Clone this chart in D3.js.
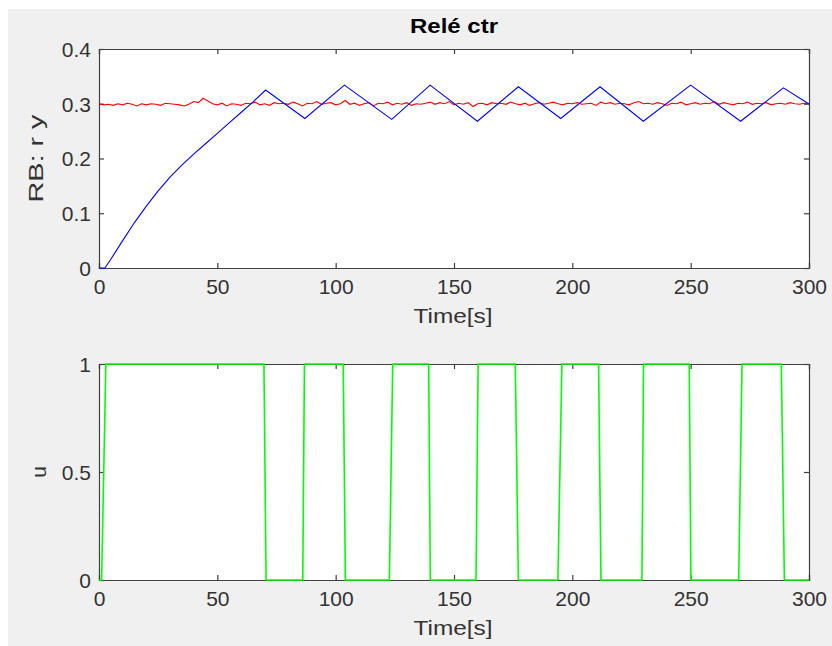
<!DOCTYPE html>
<html><head><meta charset="utf-8">
<script src="https://cdn.jsdelivr.net/npm/d3@7"></script>
<style>body{margin:0;background:#fff}svg{display:block}</style>
</head><body>
<script>
const titleText = "Relé ctr";
const xLabel = "Time[s]";
const topYLabel = "RB: r y";
const botYLabel = "u";
const timeTicks = [0,50,100,150,200,250,300];
const rbTicks = [0,0.1,0.2,0.3,0.4];
const uTicks = [0,0.5,1];

// reference r (red), sampled every 2 s
const refStep = 2;
const refValues = [
0.300,0.298,0.299,0.297,0.300,0.298,0.301,0.299,0.296,0.300,
0.298,0.300,0.299,0.297,0.301,0.300,0.299,0.298,0.296,0.299,
0.304,0.302,0.310,0.305,0.300,0.298,0.301,0.296,0.300,0.299,
0.297,0.301,0.300,0.303,0.298,0.300,0.297,0.302,0.300,0.301,
0.299,0.303,0.300,0.296,0.301,0.300,0.304,0.299,0.301,0.302,
0.298,0.300,0.306,0.299,0.301,0.297,0.300,0.302,0.296,0.301,
0.300,0.303,0.298,0.301,0.299,0.302,0.297,0.300,0.299,0.301,
0.303,0.299,0.302,0.300,0.304,0.298,0.301,0.299,0.302,0.295,
0.300,0.301,0.298,0.302,0.300,0.301,0.299,0.303,0.300,0.298,
0.301,0.297,0.300,0.302,0.299,0.301,0.303,0.300,0.298,0.301,
0.300,0.302,0.299,0.300,0.301,0.297,0.303,0.300,0.302,0.299,
0.301,0.300,0.298,0.302,0.304,0.300,0.301,0.299,0.302,0.300,
0.297,0.301,0.300,0.303,0.298,0.300,0.302,0.299,0.301,0.300,
0.304,0.299,0.302,0.300,0.298,0.301,0.300,0.303,0.299,0.301,
0.300,0.302,0.298,0.300,0.301,0.299,0.302,0.300,0.299,0.301,
0.300];

// output y (blue)
const outTime = [0,2.5,5,10,15,20,25,30,35,40,45,50,55,60,65,70.4,87,103.7,123.7,139.9,159.9,177.2,195.1,211.7,230,250,271.1,289.2,300];
const outValues = [0,0,0.016,0.050,0.083,0.113,0.141,0.166,0.188,0.208,0.227,0.246,0.265,0.284,0.303,0.325,0.273,0.334,0.2715,0.334,0.268,0.331,0.273,0.331,0.268,0.334,0.268,0.329,0.2995];

// control u (green)
const uTime = [0,1.1,2.9,69.7,70.6,86.1,86.8,103.2,104.1,122.7,124.1,139.3,140.0,159.3,160.2,175.9,177.2,193.9,195.6,211.1,212.1,229.4,230.1,249.4,250.1,270.3,271.7,288.3,289.6,300];
const uValues = [0,0,1,1,0,0,1,1,0,0,1,1,0,0,1,1,0,0,1,1,0,0,1,1,0,0,1,1,0,0];

const W = 832, H = 646;
const svg = d3.select("body").append("svg").attr("width", W).attr("height", H);
svg.append("rect").attr("x",8).attr("y",9).attr("width",W-8).attr("height",H-9).attr("fill","#f0f0f0");

const FONT = "'Liberation Sans', Arial, sans-serif";
const axisColor = "#404040";
const textColor = "#333333";

function panel(top, bottom, yDomain, yTicks, yFmt, ylabel, ylabelX, ylabelLen, series) {
  const x = d3.scaleLinear().domain([0,300]).range([99,809]);
  const y = d3.scaleLinear().domain(yDomain).range([bottom, top]);
  const g = svg.append("g");
  g.append("rect").attr("x",99).attr("y",top).attr("width",710).attr("height",bottom-top).attr("fill","#fff");

  const tl = 5;
  const axB = d3.axisBottom(x).tickValues(timeTicks).tickSize(-tl).tickFormat(d3.format("d")).tickPadding(8);
  const axT = d3.axisTop(x).tickValues(timeTicks).tickSize(-tl).tickFormat("");
  const axL = d3.axisLeft(y).tickValues(yTicks).tickSize(-tl).tickFormat(yFmt).tickPadding(8);
  const axR = d3.axisRight(y).tickValues(yTicks).tickSize(-tl).tickFormat("");
  const gb = g.append("g").attr("transform",`translate(0,${bottom})`).call(axB);
  const gt = g.append("g").attr("transform",`translate(0,${top})`).call(axT);
  const gl = g.append("g").attr("transform",`translate(99,0)`).call(axL);
  const gr = g.append("g").attr("transform",`translate(809,0)`).call(axR);
  [gb,gt,gl,gr].forEach(a=>{
    a.selectAll(".domain").attr("stroke",axisColor).attr("stroke-width",1.2);
    a.selectAll(".tick line").attr("stroke",axisColor).attr("stroke-width",1.2);
    a.selectAll("text").attr("fill",textColor).style("font-family",FONT).style("font-size","21px");
  });
  gb.selectAll("text").attr("dy","0.85em");
  gl.selectAll("text").attr("dy","0.35em");

  series.forEach(s=>{
    const line = d3.line().x(d=>x(d[0])).y(d=>y(d[1]));
    g.append("path").datum(s.data).attr("d",line).attr("fill","none")
      .attr("stroke",s.color).attr("stroke-width",s.width).attr("stroke-linejoin","miter");
  });

  g.append("text").attr("x",453).attr("y",bottom+55).attr("text-anchor","middle")
    .attr("textLength",79).attr("lengthAdjust","spacingAndGlyphs")
    .attr("fill",textColor).style("font-family",FONT).style("font-size","21px").text(xLabel);
  const yl = g.append("text").attr("transform",`translate(${ylabelX},${(top+bottom)/2}) rotate(-90)`)
    .attr("text-anchor","middle").attr("fill",textColor).style("font-family",FONT).style("font-size","21px").text(ylabel);
  if (ylabelLen) yl.attr("textLength",ylabelLen).attr("lengthAdjust","spacingAndGlyphs");
}

const refData = refValues.map((v,i)=>[i*refStep, v]);
const outData = outTime.map((t,i)=>[t, outValues[i]]);
const uData = uTime.map((t,i)=>[t, uValues[i]]);

panel(49, 268, [0,0.4], rbTicks, d=> d===0 ? "0" : d3.format(".1f")(d), topYLabel, 43, 88, [
  {data: refData, color:"#ff0000", width:1.1},
  {data: outData, color:"#0000ff", width:1.1}
]);
panel(364, 580, [0,1], uTicks, d=> d===0.5 ? "0.5" : d3.format("d")(d), botYLabel, 46, null, [
  {data: uData, color:"#00ff00", width:1.6}
]);

svg.append("text").attr("x",454).attr("y",33).attr("text-anchor","middle")
  .attr("textLength",88).attr("lengthAdjust","spacingAndGlyphs")
  .attr("fill","#000").style("font-family",FONT).style("font-size","21px").style("font-weight","bold").text(titleText);
</script>
</body></html>
